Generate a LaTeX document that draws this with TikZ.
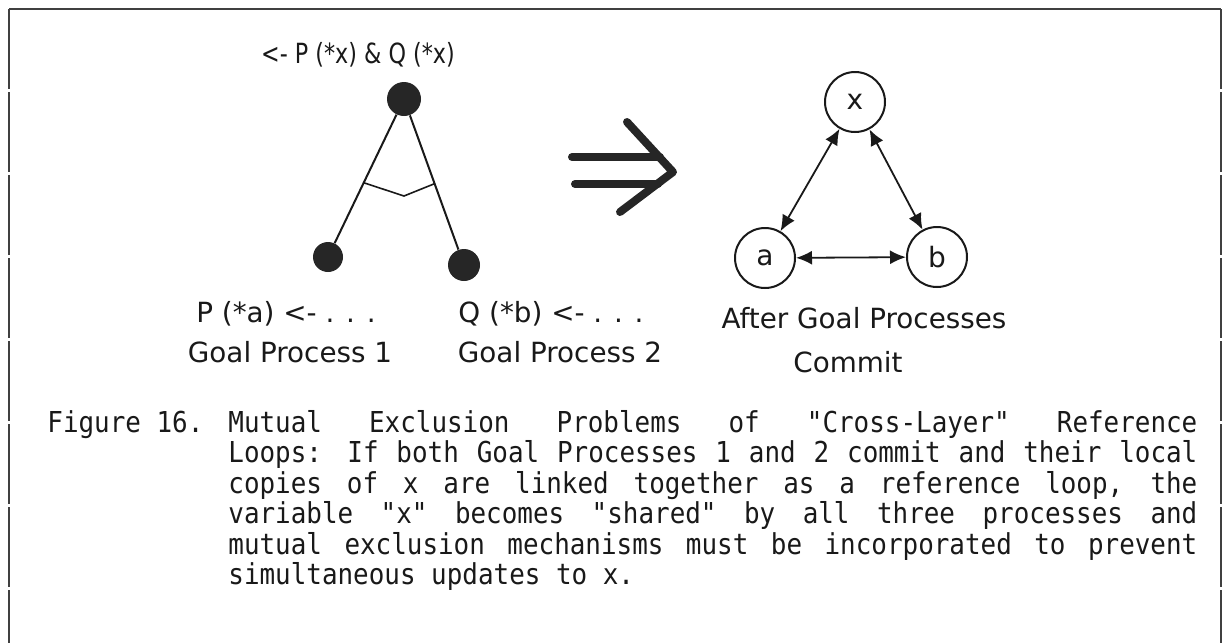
\documentclass[tikz,border=0pt]{standalone}
\usepackage{fontspec}
\setmainfont{DejaVu Sans}
\newfontfamily\capfont[FakeStretch=0.9]{DejaVu Sans Mono}
\usetikzlibrary{arrows.meta,calc}
\newcommand\justline[1]{{\spaceskip=\fontdimen2\font plus 1fil\relax\makebox[484.5pt][s]{#1}}}
\begin{document}
\begin{tikzpicture}[x=0.5pt,y=-0.5pt,
  lbl/.style={anchor=base, inner sep=0pt, text=black!90, font=\fontsize{13.9}{16}\selectfont},
  blob/.style={circle, fill=black!85, inner sep=0pt, minimum size=#1},
  vnode/.style={circle, draw=black!90, line width=1pt, minimum size=30pt, inner sep=0pt, text=black!90, font=\fontsize{14}{16}\selectfont},
  link/.style={line width=0.9pt, black!90, {Latex[length=8pt,width=7pt]}-{Latex[length=8pt,width=7pt]}},
  framesolid/.style={line width=0.8pt, black!75},
  frameside/.style={line width=0.8pt, black!75, dash pattern=on 40pt off 1.5pt},
  captext/.style={anchor=base west, inner sep=0pt, text=black!90, font=\capfont\fontsize{14.4}{16}\selectfont},
  bigarrow/.style={line width=4pt, black!85, line cap=round, line join=round},
  stem/.style={line width=1pt, black!90},
]
\useasboundingbox (0,0) rectangle (1232,643);
% frame
\coordinate (tl) at (9,9);
\coordinate (tr) at (1221,9);
\coordinate (bl) at (9,643);
\coordinate (br) at (1221,643);
\draw[framesolid] (tl) -- (tr);
\draw[frameside] (tl) -- (bl);
\draw[frameside] (tr) -- (br);

% left tree
\node[blob=17pt] (g) at (404,99) {};
\node[blob=15pt] (g1) at (328,257) {};
\node[blob=16pt] (g2) at (464,265) {};
\draw[stem] (g) -- (g1);
\draw[stem] (g) -- (g2);
\coordinate (m) at (404,196);
\draw[line width=0.8pt, black!90] ($(g)!0.53!(g1)$) -- (m) -- ($(g)!0.51!(g2)$);

\node[lbl] (t0) at (358,63) {\scalebox{0.8}[1]{<- P (*x) \& Q (*x)}};
\node[lbl] (t1) at (286,322) {P (*a) <- . . .};
\node[lbl] (t2) at (290,362) {Goal Process 1};
\node[lbl] (t3) at (551,322) {Q (*b) <- . . .};
\node[lbl] (t4) at (560,362) {Goal Process 2};

% big implication arrow
\draw[bigarrow] (572,157) -- (660,157);
\draw[bigarrow] (575,184) -- (658,184);
\draw[bigarrow] (627,122) -- (673,172) -- (620,212);

% right graph
\node[vnode] (x) at (855,102) {x};
\node[vnode] (a) at (765,258) {a};
\node[vnode] (b) at (937,257) {b};
\draw[link] (x) -- (a);
\draw[link] (x) -- (b);
\draw[link] (a) -- (b);
\node[lbl] (t5) at (864,328) {After Goal Processes};
\node[lbl] (t6) at (848,372) {Commit};

% caption
\node[captext] (c0) at (47,432) {Figure 16.};
\node[captext] (c1) at (228,432) {\justline{Mutual Exclusion Problems of "Cross-Layer" Reference}};
\node[captext] (c2) at (228,462) {\justline{Loops: If both Goal Processes 1 and 2 commit and their local}};
\node[captext] (c3) at (228,493) {\justline{copies of x are linked together as a reference loop, the}};
\node[captext] (c4) at (228,523) {\justline{variable "x" becomes "shared" by all three processes and}};
\node[captext] (c5) at (228,554) {\justline{mutual exclusion mechanisms must be incorporated to prevent}};
\node[captext] (c6) at (228,584) {simultaneous updates to x.};
\end{tikzpicture}
\end{document}
